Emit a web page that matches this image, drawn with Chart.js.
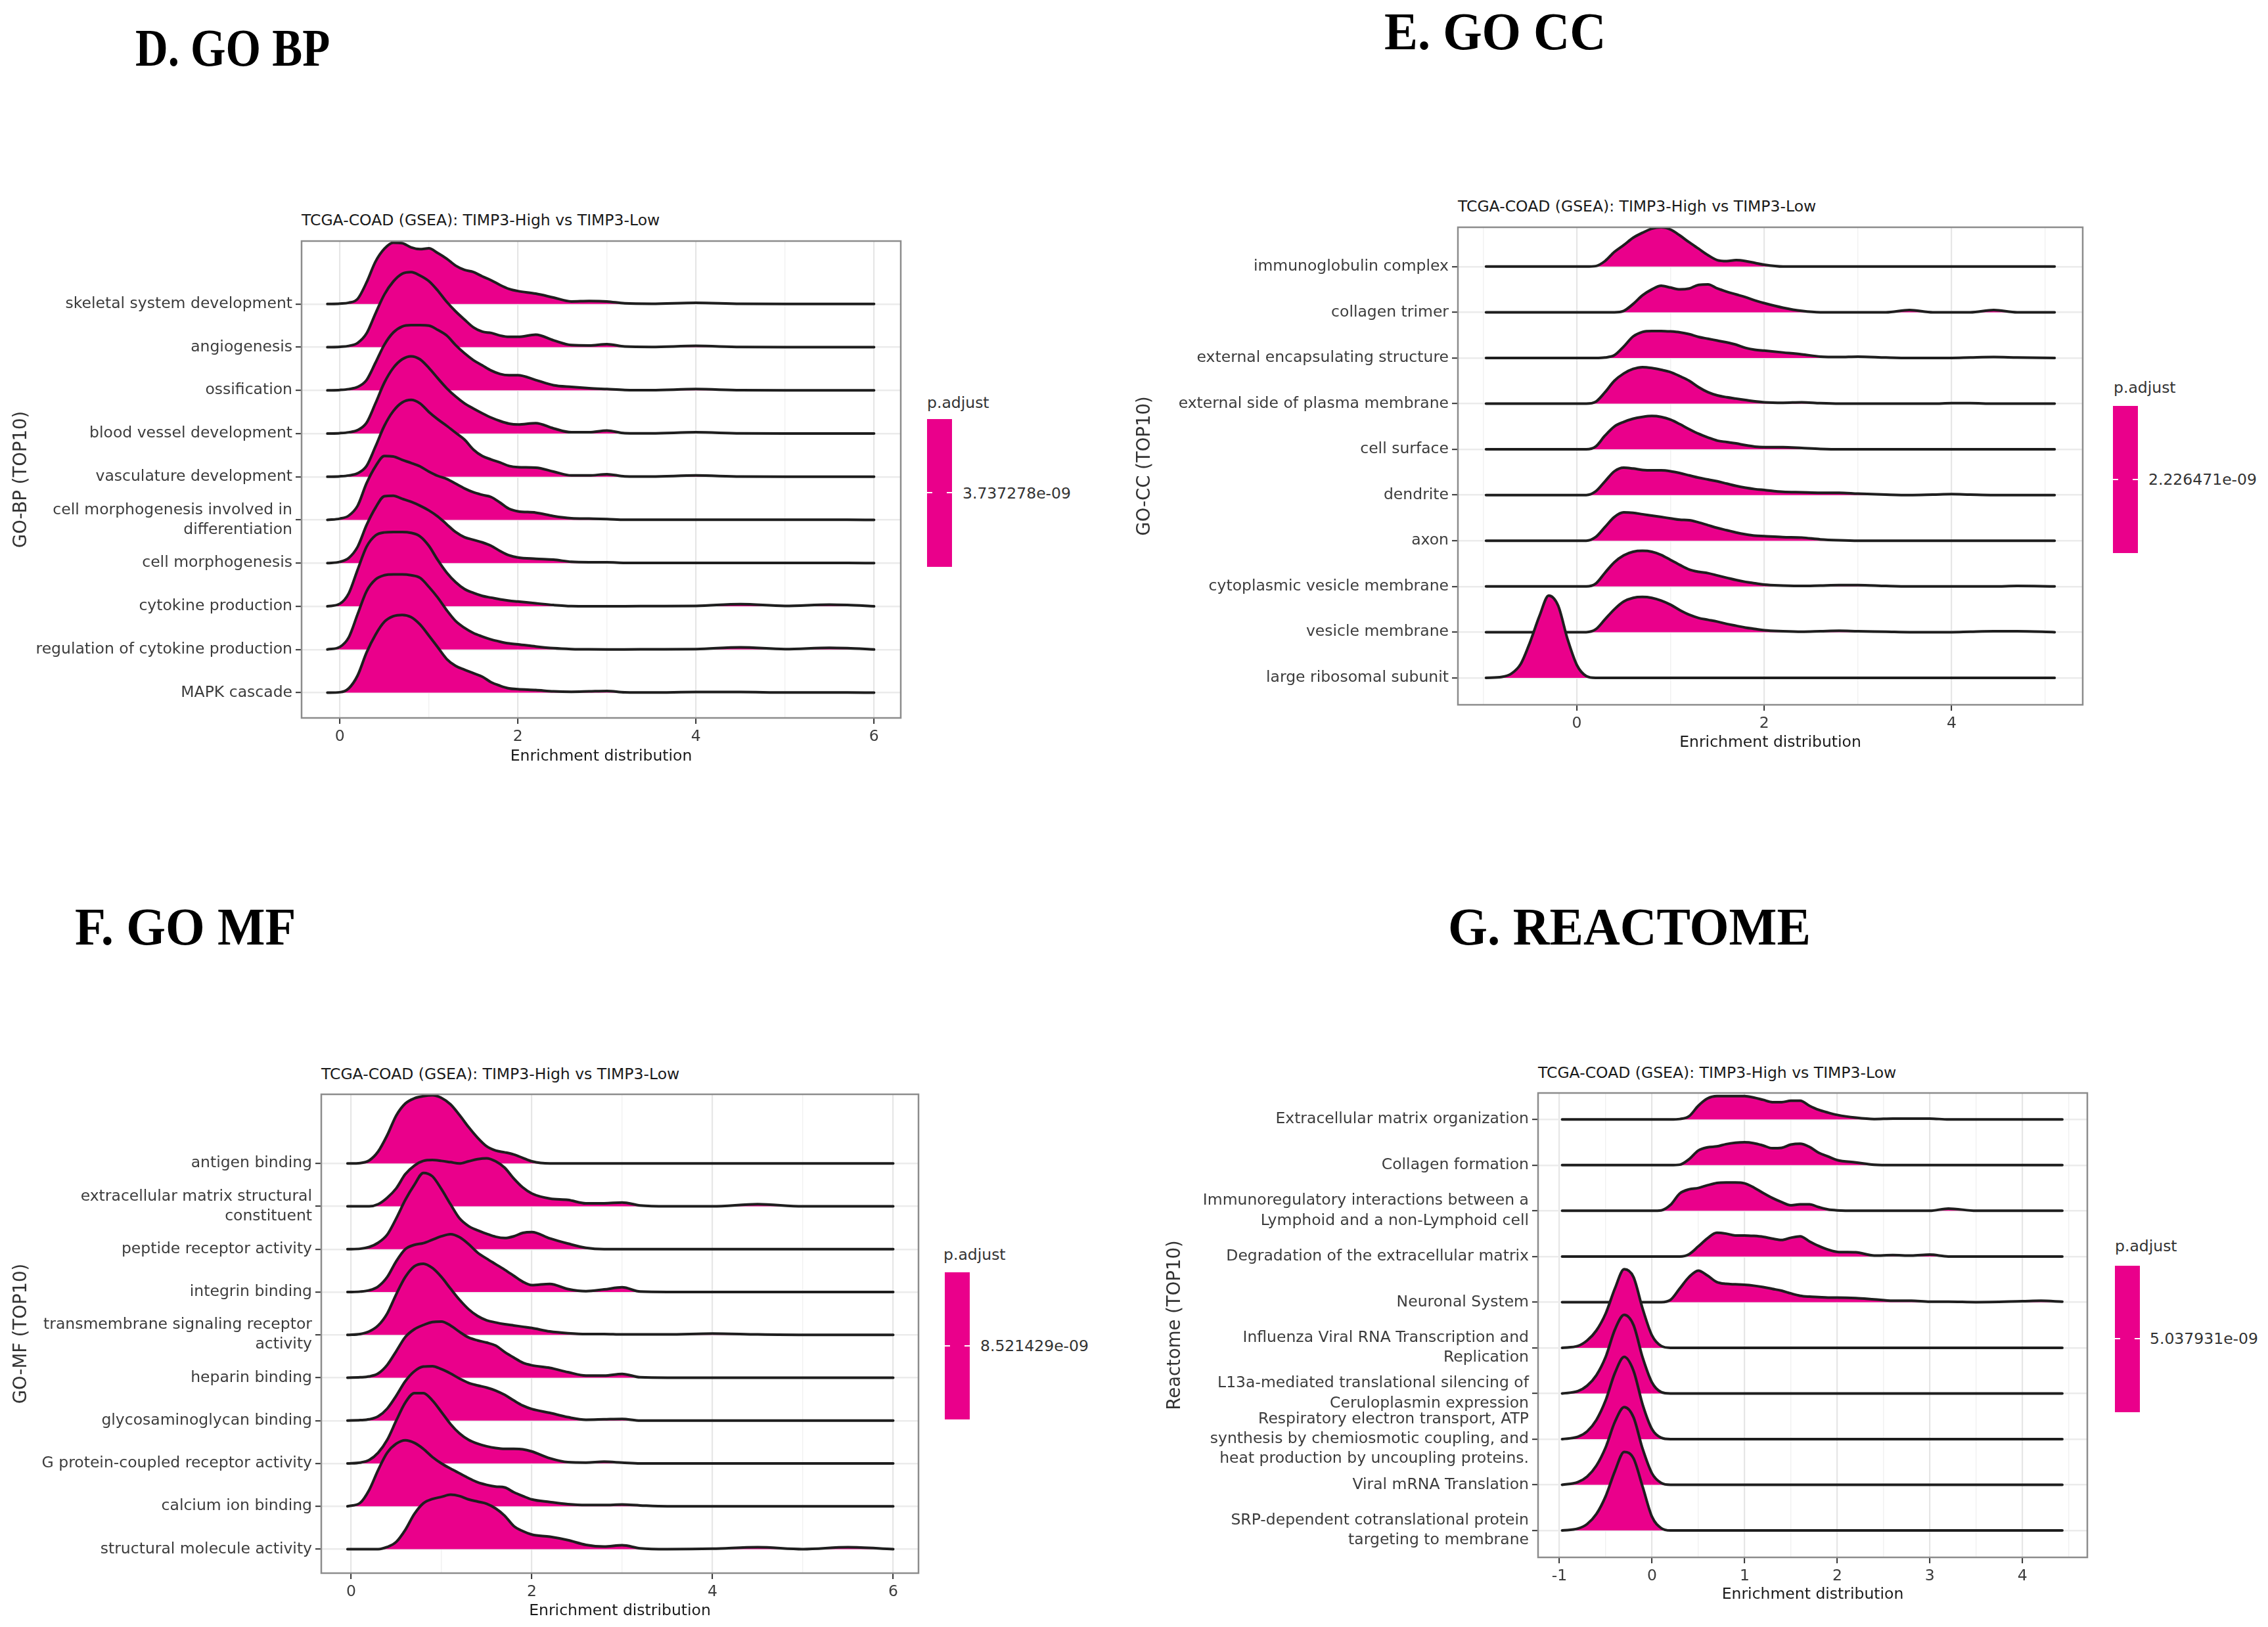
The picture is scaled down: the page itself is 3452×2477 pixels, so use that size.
<!DOCTYPE html>
<html>
<head>
<meta charset="utf-8">
<script src="https://cdn.jsdelivr.net/npm/chart.js@4.4.1/dist/chart.umd.min.js"></script>
<style>
html,body{margin:0;padding:0;background:#fff;}
#page{position:relative;width:3452px;height:2477px;overflow:hidden;background:#fff;}
#page canvas{position:absolute;}
.ptitle{position:absolute;font-family:"Liberation Serif","Times New Roman",serif;font-weight:bold;font-size:80px;line-height:80px;color:#000;transform-origin:0 50%;white-space:nowrap;}
.sub{position:absolute;font-family:"DejaVu Sans",sans-serif;font-size:23.5px;line-height:30px;color:#1a1a1a;white-space:nowrap;}
.lg{position:absolute;font-family:"DejaVu Sans",sans-serif;font-size:23.5px;line-height:30px;color:#333;white-space:nowrap;}
.bar{position:absolute;background:#EA008B;width:38px;}
.wt{position:absolute;background:#fff;width:8px;height:2px;}
</style>
</head>
<body>
<div id="page">
  <div class="ptitle" style="left:206px;top:33px;transform:scaleX(0.86)">D. GO BP</div>
  <div class="ptitle" style="left:2107px;top:8px;transform:scaleX(0.955)">E. GO CC</div>
  <div class="ptitle" style="left:114px;top:1371px;transform:scaleX(0.96)">F. GO MF</div>
  <div class="ptitle" style="left:2204px;top:1371px;transform:scaleX(0.965)">G. REACTOME</div>

  <div class="sub" style="left:459px;top:320px">TCGA-COAD (GSEA): TIMP3-High vs TIMP3-Low</div>
  <div class="sub" style="left:2219px;top:299px">TCGA-COAD (GSEA): TIMP3-High vs TIMP3-Low</div>
  <div class="sub" style="left:489px;top:1620px">TCGA-COAD (GSEA): TIMP3-High vs TIMP3-Low</div>
  <div class="sub" style="left:2341px;top:1618px">TCGA-COAD (GSEA): TIMP3-High vs TIMP3-Low</div>

  <div class="lg" style="left:1411px;top:598px">p.adjust</div>
  <div class="bar" style="left:1411px;top:638px;height:225px"></div>
  <div class="wt" style="left:1411px;top:749px"></div><div class="wt" style="left:1441px;top:749px"></div>
  <div class="lg" style="left:1465px;top:736px">3.737278e-09</div>

  <div class="lg" style="left:3217px;top:575px">p.adjust</div>
  <div class="bar" style="left:3216px;top:618px;height:224px"></div>
  <div class="wt" style="left:3216px;top:729px"></div><div class="wt" style="left:3246px;top:729px"></div>
  <div class="lg" style="left:3270px;top:715px">2.226471e-09</div>

  <div class="lg" style="left:1436px;top:1895px">p.adjust</div>
  <div class="bar" style="left:1438px;top:1937px;height:224px"></div>
  <div class="wt" style="left:1438px;top:2048px"></div><div class="wt" style="left:1468px;top:2048px"></div>
  <div class="lg" style="left:1492px;top:2034px">8.521429e-09</div>

  <div class="lg" style="left:3219px;top:1882px">p.adjust</div>
  <div class="bar" style="left:3219px;top:1927px;height:223px"></div>
  <div class="wt" style="left:3219px;top:2037px"></div><div class="wt" style="left:3249px;top:2037px"></div>
  <div class="lg" style="left:3272px;top:2023px">5.037931e-09</div>
</div>
<script>
// ================= DATA =================
// ---- D. GO BP ----
const bpCats = ['skeletal system development','angiogenesis','ossification','blood vessel development','vasculature development',['cell morphogenesis involved in','differentiation'],'cell morphogenesis','cytokine production','regulation of cytokine production','MAPK cascade'];
const bpX = [-0.14,0,0.1,0.2,0.3,0.4,0.5,0.6,0.7,0.8,0.9,1.0,1.1,1.2,1.3,1.4,1.5,1.6,1.7,1.8,1.9,2.0,2.2,2.4,2.6,2.8,3.0,3.2,3.5,4.0,4.5,5.0,5.5,5.7,6.0];
const bpSkeletal = [0,0.01,0.03,0.12,0.5,0.98,1.28,1.42,1.41,1.31,1.27,1.29,1.18,1.05,0.89,0.79,0.74,0.64,0.55,0.44,0.35,0.3,0.24,0.15,0.06,0.07,0.06,0.015,0.005,0.03,0.005,0.003,0.003,0.003,0];
const bpAngio = [0,0.01,0.03,0.1,0.32,0.78,1.22,1.52,1.7,1.74,1.66,1.53,1.31,1.05,0.83,0.64,0.46,0.36,0.33,0.27,0.24,0.24,0.29,0.16,0.05,0.04,0.07,0.015,0.005,0.03,0.005,0.003,0.003,0.003,0];
const bpOssif = [0,0.01,0.03,0.08,0.24,0.64,1.06,1.34,1.48,1.51,1.51,1.5,1.4,1.27,1.05,0.86,0.7,0.58,0.46,0.38,0.35,0.35,0.24,0.12,0.08,0.05,0.03,0.01,0.005,0.03,0.005,0.003,0.003,0.003,0];
const bpBlood = [0,0.01,0.03,0.08,0.25,0.7,1.18,1.52,1.72,1.79,1.72,1.52,1.28,1.05,0.86,0.7,0.58,0.47,0.37,0.29,0.23,0.21,0.24,0.12,0.03,0.03,0.07,0.01,0.005,0.03,0.005,0.003,0.003,0.003,0];
const bpVasc = [0,0.01,0.03,0.08,0.25,0.7,1.18,1.52,1.72,1.78,1.7,1.5,1.33,1.18,1.02,0.86,0.63,0.48,0.4,0.33,0.25,0.22,0.21,0.12,0.03,0.03,0.06,0.01,0.005,0.03,0.005,0.003,0.003,0.003,0];
const bpCellMorphInv = [0,0.03,0.1,0.33,0.85,1.24,1.48,1.47,1.39,1.32,1.24,1.12,1.02,0.95,0.84,0.73,0.64,0.58,0.53,0.4,0.26,0.2,0.17,0.09,0.04,0.03,0.02,0.005,0.003,0.003,0.003,0.003,0.003,0.003,0];
const bpCellMorph = [0,0.03,0.12,0.38,0.88,1.28,1.55,1.56,1.49,1.42,1.33,1.22,1.08,0.9,0.72,0.6,0.54,0.48,0.4,0.28,0.18,0.13,0.1,0.08,0.03,0.02,0.02,0.005,0.003,0.003,0.003,0.003,0.003,0.003,0];
const bpCytokine = [0,0.06,0.3,0.85,1.38,1.64,1.71,1.72,1.72,1.7,1.62,1.4,1.07,0.78,0.56,0.4,0.31,0.24,0.2,0.16,0.13,0.11,0.07,0.03,0.005,0.002,0.002,0.002,0.005,0.01,0.05,0.01,0.04,0.03,0];
const bpRegCytokine = [0,0.06,0.28,0.82,1.35,1.62,1.72,1.74,1.74,1.72,1.66,1.45,1.2,0.91,0.66,0.5,0.38,0.3,0.23,0.18,0.14,0.12,0.07,0.03,0.01,0.003,0.002,0.002,0.005,0.01,0.05,0.01,0.04,0.03,0];
const bpMapk = [0,0.01,0.1,0.4,0.93,1.34,1.64,1.77,1.8,1.75,1.58,1.32,1.05,0.78,0.62,0.53,0.45,0.37,0.24,0.16,0.1,0.08,0.06,0.03,0.02,0.03,0.04,0.01,0.005,0.015,0.015,0.005,0.005,0.005,0];
const bpXTicks = [0,1,2,3,4,5,6];
const bpXLabels = ['0','','2','','4','','6'];

// ---- E. GO CC ----
const ccCats = ['immunoglobulin complex','collagen trimer','external encapsulating structure','external side of plasma membrane','cell surface','dendrite','axon','cytoplasmic vesicle membrane','vesicle membrane','large ribosomal subunit'];
const ccX = [-0.97,-0.8,-0.7,-0.6,-0.5,-0.4,-0.3,-0.2,-0.1,0,0.1,0.2,0.3,0.4,0.5,0.6,0.7,0.8,0.9,1.0,1.1,1.2,1.3,1.4,1.5,1.6,1.7,1.8,1.9,2.0,2.2,2.4,2.6,2.8,3.0,3.3,3.55,3.8,4.0,4.2,4.45,4.7,5.1];
const ccImmuno = [0,0,0,0,0,0,0,0,0,0, 0,0.01,0.12,0.32,0.47,0.63,0.74,0.83,0.86,0.81, 0.68,0.53,0.39,0.25,0.14,0.12,0.14,0.12,0.08,0.04, 0,0,0,0,0, 0,0,0,0,0,0,0,0];
const ccCollagen = [0,0,0,0,0,0,0,0,0,0, 0,0,0,0,0.03,0.18,0.37,0.5,0.58,0.54, 0.5,0.52,0.6,0.61,0.52,0.45,0.39,0.33,0.26,0.2, 0.1,0.03,0,0,0, 0,0.05,0,0,0,0.05,0,0];
const ccExtEncaps = [0,0,0,0,0,0,0,0,0,0, 0,0,0.01,0.06,0.25,0.47,0.57,0.59,0.59,0.58, 0.56,0.52,0.46,0.42,0.38,0.34,0.29,0.22,0.18,0.16, 0.12,0.08,0.03,0.02,0.03, 0.01,0,0,0,0.01,0.02,0.01,0];
const ccExtSide = [0,0,0,0,0,0,0,0,0,0, 0,0.04,0.25,0.5,0.66,0.76,0.8,0.78,0.74,0.69, 0.6,0.5,0.36,0.25,0.18,0.14,0.11,0.08,0.05,0.03, 0.02,0.03,0.01,0,0, 0,0,0,0.01,0.01,0,0,0];
const ccCellSurface = [0,0,0,0,0,0,0,0,0,0, 0,0.06,0.3,0.5,0.6,0.67,0.71,0.73,0.71,0.65, 0.55,0.44,0.34,0.26,0.19,0.16,0.13,0.09,0.06,0.05, 0.05,0.03,0.01,0,0, 0,0,0,0,0,0,0,0];
const ccDendrite = [0,0,0,0,0,0,0,0,0,0, 0,0.08,0.3,0.52,0.6,0.58,0.55,0.54,0.54,0.52, 0.48,0.43,0.38,0.34,0.3,0.25,0.2,0.16,0.13,0.11, 0.07,0.06,0.05,0.05,0.03, 0.01,0,0.01,0.02,0.01,0,0,0];
const ccAxon = [0,0,0,0,0,0,0,0,0,0, 0,0.08,0.3,0.52,0.62,0.61,0.58,0.55,0.52,0.49, 0.46,0.45,0.4,0.34,0.28,0.23,0.18,0.14,0.11,0.1, 0.08,0.07,0.03,0.01,0, 0,0,0,0,0,0,0,0];
const ccCytoVesicle = [0,0,0,0,0,0,0,0,0,0, 0,0.06,0.3,0.53,0.68,0.76,0.78,0.76,0.69,0.58, 0.47,0.37,0.32,0.29,0.24,0.19,0.14,0.1,0.07,0.04, 0.02,0.01,0.02,0.03,0.03, 0.01,0,0,0,0,0,0.01,0];
const ccVesicle = [0,0,0,0,0,0,0,0,0,0, 0,0.06,0.28,0.5,0.67,0.75,0.77,0.75,0.69,0.6, 0.48,0.38,0.31,0.27,0.23,0.18,0.14,0.1,0.07,0.04, 0.02,0.01,0.02,0.03,0.02, 0.01,0,0,0,0.01,0.02,0.02,0];
const ccRibosomal = [0,0.02,0.09,0.3,0.78,1.35,1.8,1.58,0.85,0.28, 0.04,0,0,0,0,0,0,0,0,0, 0,0,0,0,0,0,0,0,0,0, 0,0,0,0,0, 0,0,0,0,0,0,0,0];
const ccXTicks = [-1,0,1,2,3,4,5];
const ccXLabels = ['','0','','2','','4',''];

// ---- F. GO MF ----
const mfCats = ['antigen binding',['extracellular matrix structural','constituent'],'peptide receptor activity','integrin binding',['transmembrane signaling receptor','activity'],'heparin binding','glycosaminoglycan binding','G protein-coupled receptor activity','calcium ion binding','structural molecule activity'];
const mfX = [-0.04,0.1,0.2,0.3,0.4,0.5,0.6,0.7,0.8,0.9,1.0,1.1,1.2,1.3,1.4,1.5,1.6,1.7,1.8,1.9,2.0,2.2,2.4,2.6,2.8,3.0,3.2,3.5,4.0,4.5,5.0,5.5,6.0];
const mfAntigen = [0, 0.01,0.07,0.28,0.66,1.12,1.4,1.52,1.57,1.59,1.53, 1.38,1.13,0.85,0.6,0.4,0.3,0.26,0.21,0.13,0.05, 0,0,0,0,0,0, 0,0,0,0,0,0];
const mfEcm = [0, 0,0,0.05,0.2,0.42,0.75,0.95,1.06,1.08,1.06, 1.03,1.0,1.05,1.1,1.12,1.05,0.9,0.65,0.44,0.3, 0.18,0.15,0.07,0.07,0.09,0.02, 0,0,0.05,0,0,0];
const mfPeptide = [0, 0.01,0.05,0.15,0.34,0.72,1.15,1.5,1.78,1.7,1.4, 1.05,0.72,0.54,0.44,0.36,0.29,0.26,0.3,0.38,0.4, 0.25,0.13,0.03,0,0,0, 0,0,0,0,0,0];
const mfIntegrin = [0, 0.01,0.04,0.13,0.35,0.72,1.0,1.1,1.14,1.22,1.3, 1.35,1.28,1.12,0.92,0.78,0.65,0.52,0.38,0.24,0.16, 0.19,0.07,0.02,0.06,0.11,0.01, 0,0,0,0,0,0];
const mfTransmem = [0, 0.02,0.08,0.22,0.5,0.95,1.35,1.6,1.66,1.56,1.35, 1.08,0.82,0.6,0.44,0.34,0.29,0.25,0.22,0.19,0.16, 0.08,0.04,0.02,0.02,0.01,0.01, 0.01,0.03,0.01,0,0,0];
const mfHeparin = [0, 0.01,0.03,0.1,0.3,0.62,0.95,1.13,1.23,1.3,1.31, 1.22,1.07,0.94,0.87,0.82,0.75,0.6,0.47,0.35,0.29, 0.23,0.13,0.05,0.05,0.09,0.01, 0,0,0,0,0,0];
const mfGlycos = [0, 0.01,0.03,0.1,0.28,0.58,0.92,1.15,1.26,1.27,1.2, 1.1,0.98,0.88,0.82,0.77,0.7,0.6,0.47,0.35,0.27, 0.18,0.08,0.02,0.03,0.04,0, 0,0,0,0,0,0];
const mfGpcr = [0, 0.02,0.08,0.25,0.55,1.0,1.42,1.64,1.64,1.47,1.2, 0.92,0.7,0.55,0.46,0.4,0.36,0.34,0.34,0.33,0.28, 0.12,0.03,0.02,0.04,0.02,0, 0,0,0,0,0,0];
const mfCalcium = [0, 0.08,0.38,0.85,1.25,1.46,1.54,1.48,1.34,1.15,1.0, 0.88,0.77,0.66,0.56,0.5,0.46,0.44,0.33,0.24,0.16, 0.1,0.05,0.03,0.03,0.04,0.02, 0,0,0,0,0,0];
const mfStructural = [0, 0,0,0,0.05,0.17,0.45,0.82,1.07,1.17,1.22, 1.27,1.24,1.16,1.11,1.06,0.95,0.78,0.54,0.42,0.34, 0.29,0.21,0.1,0.06,0.09,0.02, 0,0.01,0.045,0,0.045,0];
const mfXTicks = [0,1,2,3,4,5,6];
const mfXLabels = ['0','','2','','4','','6'];

// ---- G. REACTOME ----
const reCats = ['Extracellular matrix organization','Collagen formation',['Immunoregulatory interactions between a','Lymphoid and a non-Lymphoid cell'],'Degradation of the extracellular matrix','Neuronal System',['Influenza Viral RNA Transcription and','Replication'],['L13a-mediated translational silencing of','Ceruloplasmin expression'],['Respiratory electron transport, ATP','synthesis by chemiosmotic coupling, and','heat production by uncoupling proteins.'],'Viral mRNA Translation',['SRP-dependent cotranslational protein','targeting to membrane']];
const reX = [-0.97,-0.8,-0.7,-0.6,-0.5,-0.4,-0.3,-0.2,-0.1,0,0.1,0.2,0.3,0.4,0.5,0.6,0.7,0.8,0.9,1.0,1.1,1.2,1.3,1.4,1.5,1.6,1.7,1.8,1.9,2.0,2.2,2.4,2.6,2.8,3.0,3.2,3.5,4.0,4.2,4.43];
const reEcmOrg = [0,0,0,0,0,0,0,0,0,0, 0,0,0.01,0.07,0.3,0.46,0.51,0.51,0.51,0.51, 0.48,0.43,0.38,0.38,0.41,0.41,0.3,0.21,0.15,0.1, 0.04,0.01,0.02,0.02,0.02,0, 0,0,0,0];
const reCollagen = [0,0,0,0,0,0,0,0,0,0, 0,0,0.01,0.13,0.32,0.39,0.41,0.46,0.49,0.5, 0.48,0.43,0.37,0.38,0.45,0.47,0.4,0.27,0.19,0.11, 0.06,0.01,0,0,0,0, 0,0,0,0];
const reImmunoreg = [0,0,0,0,0,0,0,0,0,0, 0.01,0.13,0.38,0.47,0.5,0.56,0.61,0.62,0.62,0.6, 0.51,0.39,0.28,0.19,0.12,0.14,0.14,0.08,0.03,0.01, 0,0,0,0,0,0.05, 0,0,0,0];
const reDegradation = [0,0,0,0,0,0,0,0,0,0, 0,0,0,0.05,0.22,0.4,0.52,0.5,0.46,0.46, 0.45,0.43,0.39,0.36,0.41,0.44,0.33,0.23,0.15,0.1, 0.09,0.02,0.03,0.02,0.04,0, 0,0,0,0];
const reNeuronal = [0,0,0,0,0,0,0,0,0,0, 0,0.05,0.3,0.55,0.69,0.58,0.44,0.4,0.39,0.38, 0.36,0.33,0.29,0.25,0.19,0.14,0.12,0.11,0.1,0.1, 0.09,0.06,0.03,0.03,0.01,0.01, 0,0.02,0.03,0.01];
const reInfluenza = [0,0.04,0.16,0.38,0.75,1.3,1.72,1.55,0.85,0.27, 0.04,0,0,0,0,0,0,0,0,0, 0,0,0,0,0,0,0,0,0,0, 0,0,0,0,0,0, 0,0,0,0];
const reL13a = [0,0.05,0.17,0.4,0.8,1.4,1.72,1.5,0.78,0.24, 0.03,0,0,0,0,0,0,0,0,0, 0,0,0,0,0,0,0,0,0,0, 0,0,0,0,0,0, 0,0,0,0];
const reRespiratory = [0,0.05,0.17,0.42,0.85,1.45,1.8,1.5,0.75,0.22, 0.03,0,0,0,0,0,0,0,0,0, 0,0,0,0,0,0,0,0,0,0, 0,0,0,0,0,0, 0,0,0,0];
const reViralMrna = [0,0.06,0.18,0.42,0.82,1.38,1.7,1.48,0.78,0.25, 0.04,0,0,0,0,0,0,0,0,0, 0,0,0,0,0,0,0,0,0,0, 0,0,0,0,0,0, 0,0,0,0];
const reSrp = [0,0.04,0.14,0.36,0.75,1.3,1.72,1.58,0.95,0.3, 0.05,0,0,0,0,0,0,0,0,0, 0,0,0,0,0,0,0,0,0,0, 0,0,0,0,0,0, 0,0,0,0];
const reXTicks = [-1,-0.5,0,0.5,1,1.5,2,2.5,3,3.5,4,4.5];
const reXLabels = ['-1','','0','','1','','2','','3','','4',''];

// ================= DRAWING =================
const FILL = '#EA008B';
const LINE = '#1e1e1e';
Chart.defaults.font.family = '"DejaVu Sans", sans-serif';

const panelBorder = {
  id: 'panelBorder',
  afterDatasetsDraw(chart) {
    const {ctx, chartArea: a} = chart;
    ctx.save();
    ctx.strokeStyle = '#8c8c8c';
    ctx.lineWidth = 2.5;
    ctx.strokeRect(a.left, a.top, a.right - a.left, a.bottom - a.top);
    ctx.restore();
  }
};

function ridgePanel(p) {
  const page = document.getElementById('page');
  const cv = document.createElement('canvas');
  cv.width = p.w; cv.height = p.h;
  cv.style.left = p.left + 'px'; cv.style.top = p.top + 'px';
  cv.style.width = p.w + 'px'; cv.style.height = p.h + 'px';
  page.appendChild(cv);
  const n = p.cats.length;
  const datasets = p.series.map((h, i) => {
    const base = n - i;
    return {
      data: p.xs.map((x, k) => ({x: x, y: base + h[k]})),
      fill: {value: base},
      backgroundColor: FILL,
      borderColor: LINE,
      borderWidth: 4,
      borderJoinStyle: 'round',
      borderCapStyle: 'round',
      pointRadius: 0,
      pointHoverRadius: 0,
      cubicInterpolationMode: 'monotone',
      order: n - 1 - i
    };
  });
  new Chart(cv.getContext('2d'), {
    type: 'line',
    data: {datasets},
    options: {
      responsive: false,
      animation: false,
      devicePixelRatio: 1,
      events: [],
      layout: {padding: {left: 0, top: p.padTop, right: p.padRight, bottom: 0}},
      plugins: {legend: {display: false}, tooltip: {enabled: false}, title: {display: false}},
      scales: {
        x: {
          type: 'linear', min: p.xmin, max: p.xmax,
          afterBuildTicks: s => { s.ticks = p.xTicks.map(v => ({value: v})); },
          afterFit: s => { s.height = p.xH; },
          ticks: {autoSkip: false, maxRotation: 0, minRotation: 0, padding: 6, color: '#3c3c3c',
                  font: {size: 23.5}, callback: (v, i) => p.xLabels[i]},
          grid: {
            color: c => (p.xLabels[c.index] ? '#e6e6e6' : '#f1f1f1'),
            lineWidth: c => (p.xLabels[c.index] ? 2.2 : 1.4),
            tickColor: c => (p.xLabels[c.index] ? '#333333' : 'rgba(0,0,0,0)'),
            tickLength: 9, tickWidth: 2
          },
          border: {display: false},
          title: {display: true, text: 'Enrichment distribution', color: '#1a1a1a',
                  font: {size: 23.5, lineHeight: 1.2}, padding: {top: 0, bottom: p.xTitlePad}}
        },
        y: {
          type: 'linear', min: p.ymin, max: p.ymax,
          afterBuildTicks: s => { s.ticks = p.cats.map((c, i) => ({value: i + 1})); },
          afterFit: s => { s.width = p.yW; },
          ticks: {autoSkip: false, padding: 5, color: '#3c3c3c',
                  font: {size: 23.5, lineHeight: 1.28}, callback: v => p.cats[n - v]},
          grid: {color: '#ebebeb', lineWidth: 2.4, tickLength: 9, tickWidth: 2, tickColor: '#333333'},
          border: {display: false},
          title: {display: true, text: p.yTitle, color: '#333333',
                  font: {size: 27.5, lineHeight: 1.2}, padding: {top: p.yTitlePad, bottom: 0}}
        }
      }
    },
    plugins: [panelBorder]
  });
}

ridgePanel({
  left: 0, top: 340, w: 1400, h: 840, padTop: 27, padRight: 29, yW: 459, xH: 87,
  yTitlePad: 16.5, xTitlePad: 13.9,
  xmin: -0.43, xmax: 6.30, ymin: 0.415, ymax: 11.458,
  cats: bpCats, xs: bpX, yTitle: 'GO-BP (TOP10)',
  series: [bpSkeletal, bpAngio, bpOssif, bpBlood, bpVasc, bpCellMorphInv, bpCellMorph, bpCytokine, bpRegCytokine, bpMapk],
  xTicks: bpXTicks, xLabels: bpXLabels
});
ridgePanel({
  left: 1700, top: 320, w: 1500, h: 840, padTop: 26, padRight: 30, yW: 519, xH: 87,
  yTitlePad: 26.5, xTitlePad: 14.9,
  xmin: -1.27, xmax: 5.40, ymin: 0.41, ymax: 10.86,
  cats: ccCats, xs: ccX, yTitle: 'GO-CC (TOP10)',
  series: [ccImmuno, ccCollagen, ccExtEncaps, ccExtSide, ccCellSurface, ccDendrite, ccAxon, ccCytoVesicle, ccVesicle, ccRibosomal],
  xTicks: ccXTicks, xLabels: ccXLabels
});
ridgePanel({
  left: 0, top: 1640, w: 1430, h: 837, padTop: 26, padRight: 32, yW: 489, xH: 82,
  yTitlePad: 16.5, xTitlePad: 9.9,
  xmin: -0.33, xmax: 6.28, ymin: 0.44, ymax: 11.614,
  cats: mfCats, xs: mfX, yTitle: 'GO-MF (TOP10)',
  series: [mfAntigen, mfEcm, mfPeptide, mfIntegrin, mfTransmem, mfHeparin, mfGlycos, mfGpcr, mfCalcium, mfStructural],
  xTicks: mfXTicks, xLabels: mfXLabels
});
ridgePanel({
  left: 1760, top: 1640, w: 1450, h: 837, padTop: 24, padRight: 33, yW: 581, xH: 106,
  yTitlePad: 12.5, xTitlePad: 34.9,
  xmin: -1.23, xmax: 4.70, ymin: 0.41, ymax: 10.58,
  cats: reCats, xs: reX, yTitle: 'Reactome (TOP10)',
  series: [reEcmOrg, reCollagen, reImmunoreg, reDegradation, reNeuronal, reInfluenza, reL13a, reRespiratory, reViralMrna, reSrp],
  xTicks: reXTicks, xLabels: reXLabels
});
</script>
</body>
</html>
